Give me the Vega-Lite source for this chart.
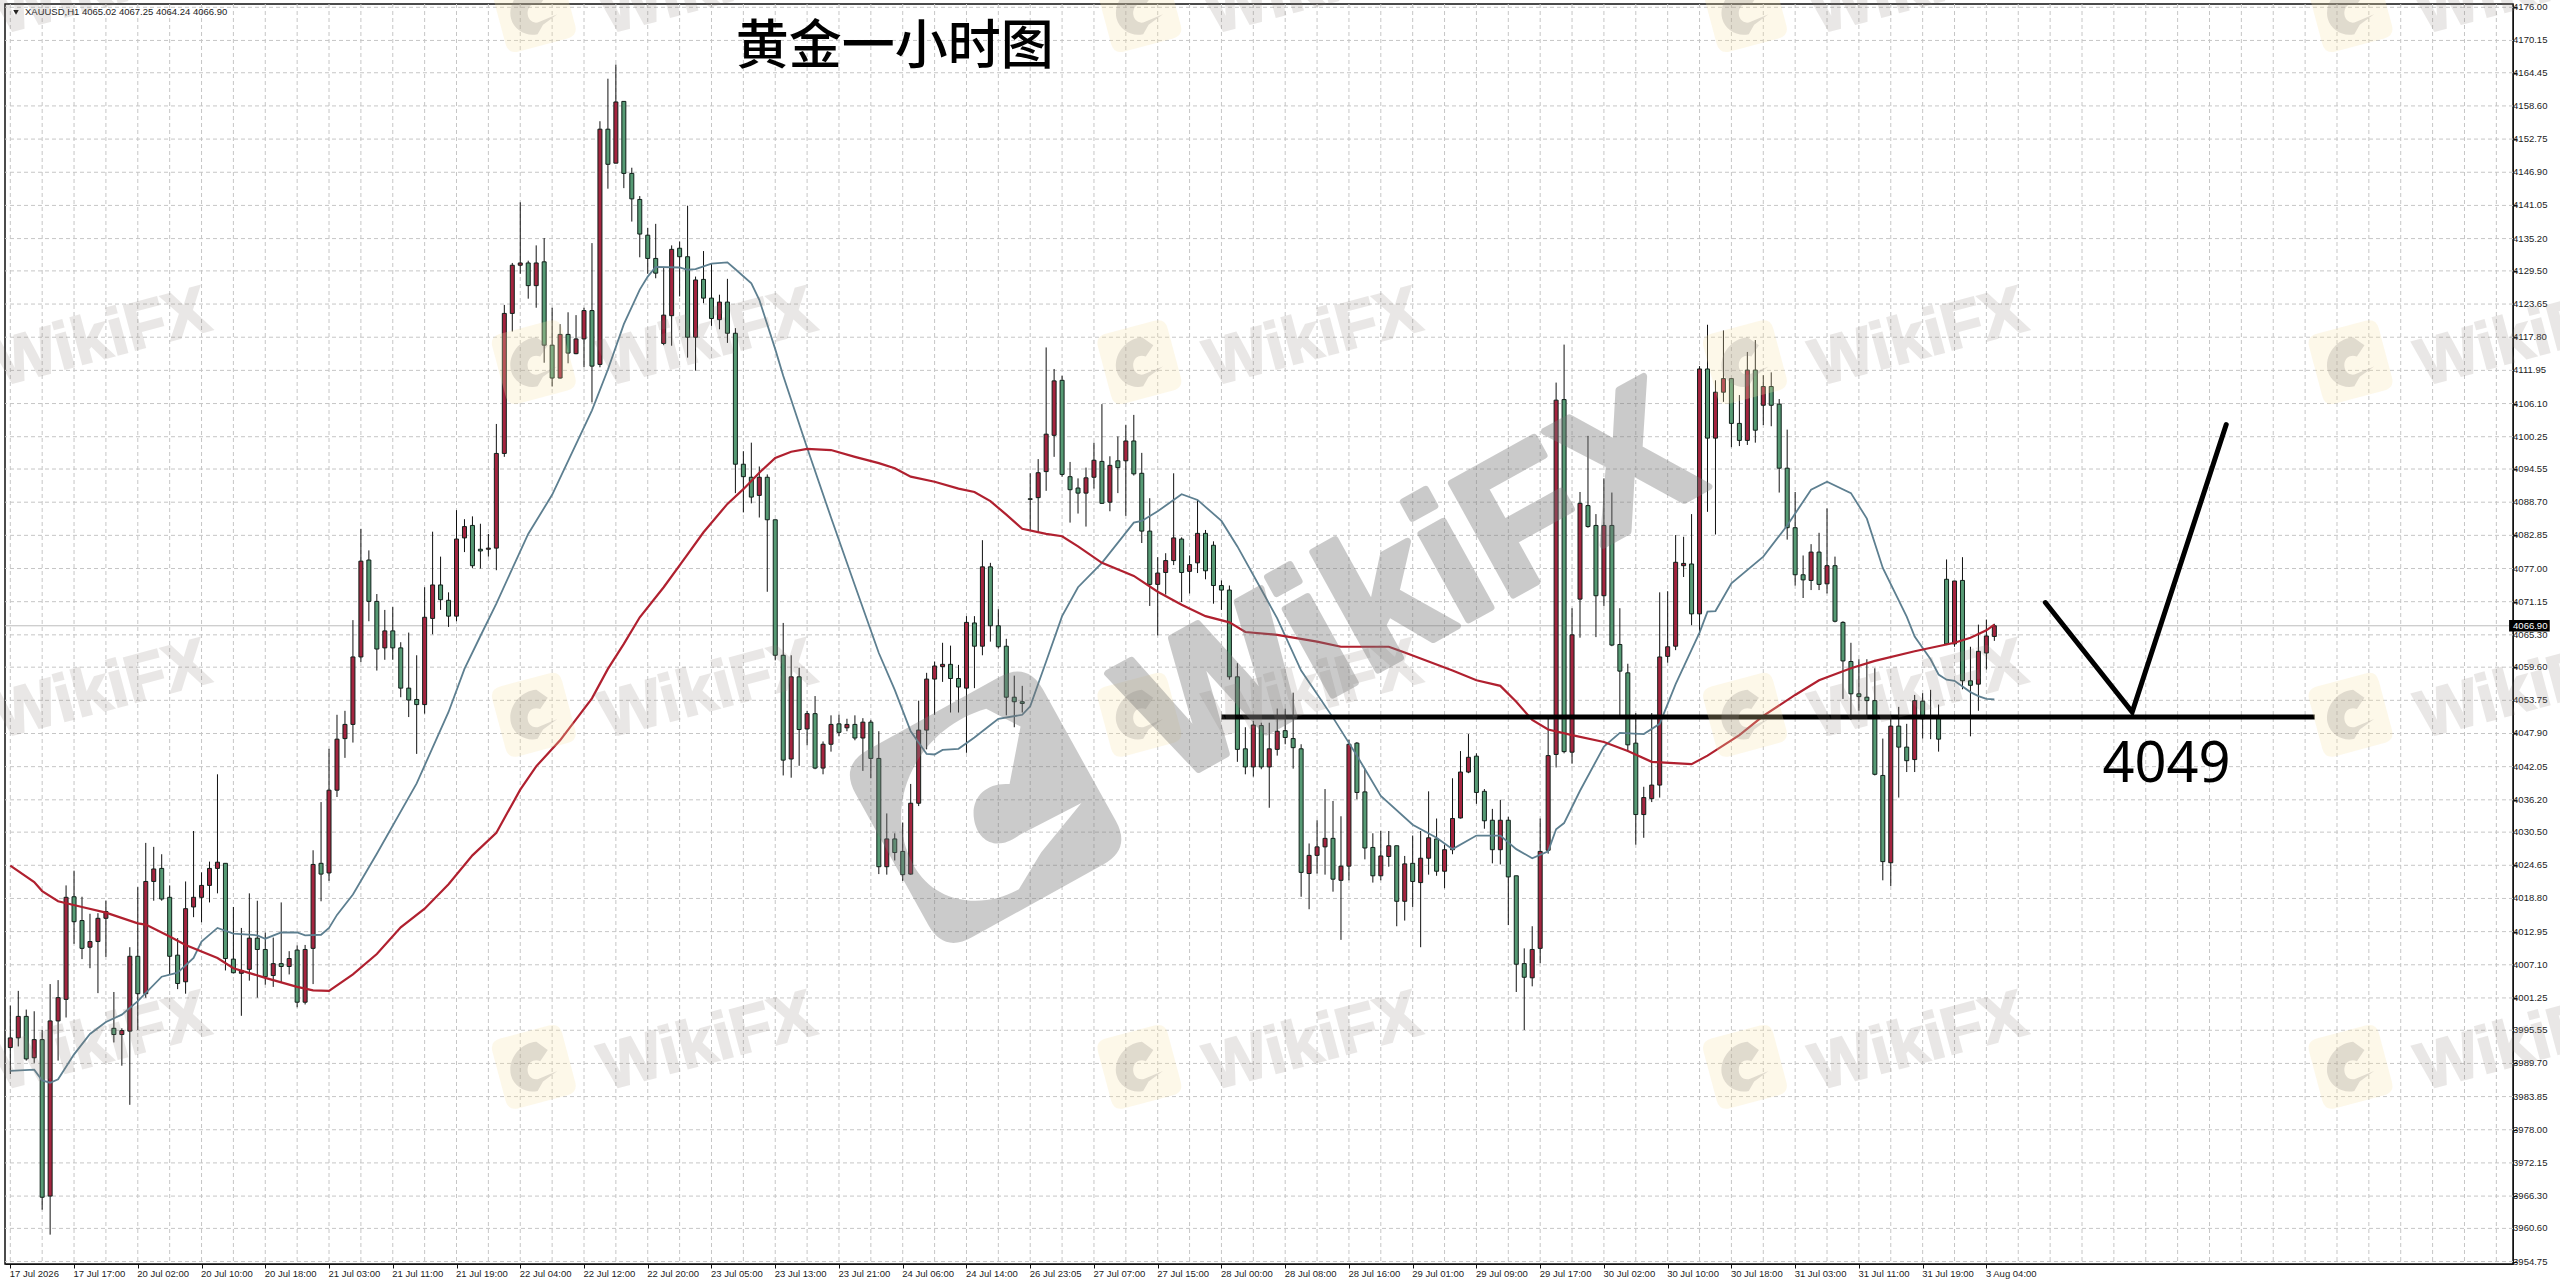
{
  "$schema": "https://vega.github.io/schema/vega-lite/v6.json",
  "width": 2508,
  "height": 1260,
  "autosize": {"type": "none"},
  "padding": {"left": 5, "top": 4, "right": 47, "bottom": 24},
  "background": "white",
  "config": {
    "view": {"stroke": "#111", "strokeWidth": 1.5},
    "axis": {"labelFont": "Liberation Sans", "labelFontSize": 9.5, "labelColor": "#222", "tickColor": "#111", "domainColor": "#111", "grid": false, "title": null, "labelOverlap": false, "labelSeparation": 0}
  },
  "datasets": {
    "candles": [
      {"i":0,"o":3992.5,"h":3999.9,"l":3987.8,"c":3994.2},{"i":1,"o":3994.2,"h":4002.5,"l":3992.7,"c":3998.0},{"i":2,"o":3998.0,"h":3999.2,"l":3990.2,"c":3990.5},{"i":3,"o":3990.7,"h":3998.9,"l":3989.8,"c":3993.9},{"i":4,"o":3993.9,"h":3995.6,"l":3963.9,"c":3966.1},
      {"i":5,"o":3966.3,"h":4003.7,"l":3959.5,"c":3997.2},{"i":6,"o":3997.2,"h":4004.4,"l":3990.2,"c":4001.3},{"i":7,"o":4001.0,"h":4021.1,"l":3997.8,"c":4019.0},{"i":8,"o":4019.1,"h":4023.7,"l":4010.8,"c":4014.7},{"i":9,"o":4014.9,"h":4019.1,"l":4008.1,"c":4010.0},
      {"i":10,"o":4010.2,"h":4016.1,"l":4006.5,"c":4011.2},{"i":11,"o":4011.2,"h":4016.2,"l":4002.1,"c":4015.3},{"i":12,"o":4015.3,"h":4018.4,"l":4008.5,"c":4016.5},{"i":13,"o":3995.9,"h":4002.3,"l":3993.4,"c":3994.8},{"i":14,"o":3994.8,"h":3995.9,"l":3989.3,"c":3995.5},
      {"i":15,"o":3995.4,"h":4010.2,"l":3982.4,"c":4008.6},{"i":16,"o":4008.6,"h":4020.8,"l":3995.6,"c":4002.0},{"i":17,"o":4002.0,"h":4028.6,"l":4001.3,"c":4021.8},{"i":18,"o":4021.8,"h":4027.9,"l":4018.4,"c":4024.0},{"i":19,"o":4024.1,"h":4026.6,"l":4018.4,"c":4018.7},
      {"i":20,"o":4019.0,"h":4021.1,"l":4005.4,"c":4008.6},{"i":21,"o":4008.8,"h":4011.8,"l":4002.8,"c":4003.8},{"i":22,"o":4004.1,"h":4021.8,"l":4002.0,"c":4017.0},{"i":23,"o":4017.3,"h":4030.7,"l":4015.5,"c":4019.0},{"i":24,"o":4019.0,"h":4023.4,"l":4014.6,"c":4021.1},
      {"i":25,"o":4021.1,"h":4025.3,"l":4018.1,"c":4024.1},{"i":26,"o":4024.1,"h":4040.7,"l":4019.7,"c":4025.2},{"i":27,"o":4025.0,"h":4025.0,"l":4006.1,"c":4008.2},{"i":28,"o":4008.1,"h":4017.3,"l":4005.6,"c":4005.7},{"i":29,"o":4005.6,"h":4013.6,"l":3998.1,"c":4006.1},
      {"i":30,"o":4006.3,"h":4019.7,"l":4004.3,"c":4011.8},{"i":31,"o":4011.8,"h":4018.4,"l":4001.3,"c":4009.8},{"i":32,"o":4009.8,"h":4012.8,"l":4003.6,"c":4005.0},{"i":33,"o":4005.2,"h":4011.9,"l":4003.2,"c":4007.3},{"i":34,"o":4007.3,"h":4018.1,"l":4003.9,"c":4006.8},
      {"i":35,"o":4006.8,"h":4009.5,"l":4005.4,"c":4008.2},{"i":36,"o":4009.7,"h":4010.5,"l":3999.6,"c":4000.5},{"i":37,"o":4000.5,"h":4010.6,"l":4000.1,"c":4009.8},{"i":38,"o":4010.0,"h":4027.3,"l":4003.7,"c":4024.8},{"i":39,"o":4025.0,"h":4035.8,"l":4018.3,"c":4023.1},
      {"i":40,"o":4023.3,"h":4045.2,"l":4021.9,"c":4037.9},{"i":41,"o":4037.9,"h":4051.2,"l":4036.7,"c":4046.9},{"i":42,"o":4047.0,"h":4051.9,"l":4043.6,"c":4049.5},{"i":43,"o":4049.5,"h":4067.9,"l":4046.3,"c":4061.4},{"i":44,"o":4061.4,"h":4084.0,"l":4060.5,"c":4078.3},
      {"i":45,"o":4078.5,"h":4080.2,"l":4067.7,"c":4071.2},{"i":46,"o":4071.2,"h":4072.5,"l":4059.0,"c":4062.8},{"i":47,"o":4063.0,"h":4069.7,"l":4060.9,"c":4066.0},{"i":48,"o":4066.0,"h":4070.2,"l":4060.9,"c":4063.0},{"i":49,"o":4063.0,"h":4064.0,"l":4054.3,"c":4055.9},
      {"i":50,"o":4055.9,"h":4065.7,"l":4050.8,"c":4053.8},{"i":51,"o":4053.9,"h":4061.7,"l":4044.3,"c":4053.0},{"i":52,"o":4053.0,"h":4073.7,"l":4051.4,"c":4068.4},{"i":53,"o":4068.2,"h":4083.5,"l":4065.4,"c":4074.1},{"i":54,"o":4074.1,"h":4079.1,"l":4069.7,"c":4071.5},
      {"i":55,"o":4071.4,"h":4072.8,"l":4066.7,"c":4068.6},{"i":56,"o":4068.6,"h":4087.3,"l":4067.7,"c":4082.2},{"i":57,"o":4082.4,"h":4085.7,"l":4079.9,"c":4084.4},{"i":58,"o":4084.6,"h":4086.2,"l":4077.1,"c":4077.5},{"i":59,"o":4080.4,"h":4084.9,"l":4077.0,"c":4080.1},
      {"i":60,"o":4080.4,"h":4083.1,"l":4079.1,"c":4080.6},{"i":61,"o":4080.6,"h":4102.5,"l":4076.7,"c":4097.3},{"i":62,"o":4097.3,"h":4123.5,"l":4096.7,"c":4122.0},{"i":63,"o":4122.0,"h":4130.9,"l":4118.8,"c":4130.5},{"i":64,"o":4130.5,"h":4141.6,"l":4129.0,"c":4130.9},
      {"i":65,"o":4130.9,"h":4131.3,"l":4124.6,"c":4126.9},{"i":66,"o":4126.9,"h":4134.0,"l":4123.0,"c":4130.9},{"i":67,"o":4131.1,"h":4135.3,"l":4113.3,"c":4116.4},{"i":68,"o":4116.4,"h":4123.0,"l":4109.1,"c":4110.6},{"i":69,"o":4110.6,"h":4120.1,"l":4110.5,"c":4118.3},
      {"i":70,"o":4118.3,"h":4122.2,"l":4113.2,"c":4115.0},{"i":71,"o":4114.9,"h":4121.7,"l":4114.8,"c":4117.5},{"i":72,"o":4117.5,"h":4123.0,"l":4112.5,"c":4122.5},{"i":73,"o":4122.5,"h":4134.4,"l":4106.3,"c":4112.7},{"i":74,"o":4113.0,"h":4155.9,"l":4112.5,"c":4154.5},
      {"i":75,"o":4154.5,"h":4163.4,"l":4144.0,"c":4148.3},{"i":76,"o":4148.5,"h":4165.9,"l":4148.5,"c":4159.3},{"i":77,"o":4159.4,"h":4159.4,"l":4144.1,"c":4146.7},{"i":78,"o":4146.7,"h":4147.7,"l":4138.2,"c":4142.2},{"i":79,"o":4142.1,"h":4142.7,"l":4131.9,"c":4136.0},
      {"i":80,"o":4135.8,"h":4137.1,"l":4129.0,"c":4131.7},{"i":81,"o":4131.7,"h":4137.8,"l":4128.2,"c":4129.1},{"i":82,"o":4116.7,"h":4130.0,"l":4116.4,"c":4121.7},{"i":83,"o":4121.6,"h":4134.0,"l":4116.3,"c":4133.3},{"i":84,"o":4133.5,"h":4134.7,"l":4125.0,"c":4132.0},
      {"i":85,"o":4132.0,"h":4141.0,"l":4114.2,"c":4117.8},{"i":86,"o":4117.8,"h":4128.5,"l":4111.9,"c":4127.9},{"i":87,"o":4128.0,"h":4133.0,"l":4123.8,"c":4124.7},{"i":88,"o":4124.7,"h":4130.8,"l":4119.8,"c":4121.1},{"i":89,"o":4120.9,"h":4125.3,"l":4119.2,"c":4124.0},
      {"i":90,"o":4124.0,"h":4128.1,"l":4116.8,"c":4118.5},{"i":91,"o":4118.5,"h":4119.4,"l":4090.3,"c":4095.4},{"i":92,"o":4095.4,"h":4097.7,"l":4086.9,"c":4093.2},{"i":93,"o":4093.1,"h":4099.2,"l":4088.5,"c":4089.6},{"i":94,"o":4089.9,"h":4095.0,"l":4086.0,"c":4093.1},
      {"i":95,"o":4093.1,"h":4093.6,"l":4072.9,"c":4085.6},{"i":96,"o":4085.6,"h":4085.6,"l":4060.8,"c":4061.7},{"i":97,"o":4061.7,"h":4067.4,"l":4040.5,"c":4043.2},{"i":98,"o":4043.4,"h":4061.7,"l":4040.1,"c":4057.9},{"i":99,"o":4057.9,"h":4059.5,"l":4042.2,"c":4048.6},
      {"i":100,"o":4048.7,"h":4051.9,"l":4045.8,"c":4051.4},{"i":101,"o":4051.4,"h":4054.5,"l":4041.6,"c":4041.8},{"i":102,"o":4041.8,"h":4046.5,"l":4040.7,"c":4046.0},{"i":103,"o":4046.0,"h":4051.1,"l":4044.7,"c":4049.5},{"i":104,"o":4049.6,"h":4051.2,"l":4047.4,"c":4048.1},
      {"i":105,"o":4048.9,"h":4050.5,"l":4048.3,"c":4049.5},{"i":106,"o":4049.5,"h":4051.1,"l":4046.7,"c":4047.1},{"i":107,"o":4047.1,"h":4050.6,"l":4041.3,"c":4049.9},{"i":108,"o":4049.9,"h":4050.3,"l":4040.0,"c":4043.5},{"i":109,"o":4043.5,"h":4048.3,"l":4023.1,"c":4024.4},
      {"i":110,"o":4024.4,"h":4033.8,"l":4023.0,"c":4029.3},{"i":111,"o":4029.3,"h":4030.3,"l":4025.5,"c":4026.9},{"i":112,"o":4027.1,"h":4032.2,"l":4021.9,"c":4023.0},{"i":113,"o":4023.1,"h":4039.0,"l":4023.0,"c":4035.6},{"i":114,"o":4035.6,"h":4053.7,"l":4035.1,"c":4048.5},
      {"i":115,"o":4048.5,"h":4058.6,"l":4045.1,"c":4057.5},{"i":116,"o":4057.5,"h":4060.6,"l":4051.2,"c":4059.8},{"i":117,"o":4059.7,"h":4063.9,"l":4057.0,"c":4060.1},{"i":118,"o":4060.1,"h":4063.4,"l":4051.6,"c":4057.6},{"i":119,"o":4057.6,"h":4060.0,"l":4051.6,"c":4056.1},
      {"i":120,"o":4055.9,"h":4068.6,"l":4044.5,"c":4067.5},{"i":121,"o":4067.4,"h":4068.6,"l":4055.9,"c":4063.3},{"i":122,"o":4063.3,"h":4082.0,"l":4061.7,"c":4077.3},{"i":123,"o":4077.3,"h":4078.0,"l":4064.1,"c":4066.9},{"i":124,"o":4066.9,"h":4069.8,"l":4062.9,"c":4063.2},
      {"i":125,"o":4063.3,"h":4064.6,"l":4051.1,"c":4054.3},{"i":126,"o":4054.3,"h":4058.1,"l":4049.0,"c":4053.5},{"i":127,"o":4053.5,"h":4056.3,"l":4051.6,"c":4053.2},{"i":128,"o":4089.2,"h":4093.8,"l":4083.7,"c":4089.3},{"i":129,"o":4089.5,"h":4096.3,"l":4083.4,"c":4093.9},
      {"i":130,"o":4094.1,"h":4116.0,"l":4090.7,"c":4100.7},{"i":131,"o":4100.5,"h":4112.2,"l":4096.7,"c":4110.1},{"i":132,"o":4110.2,"h":4111.0,"l":4093.2,"c":4093.6},{"i":133,"o":4093.2,"h":4095.8,"l":4085.1,"c":4090.9},{"i":134,"o":4091.2,"h":4092.9,"l":4086.7,"c":4090.3},
      {"i":135,"o":4090.3,"h":4094.8,"l":4084.4,"c":4093.0},{"i":136,"o":4093.1,"h":4099.2,"l":4091.1,"c":4096.1},{"i":137,"o":4095.9,"h":4106.0,"l":4088.4,"c":4088.5},{"i":138,"o":4088.7,"h":4096.8,"l":4087.1,"c":4095.2},{"i":139,"o":4096.0,"h":4100.3,"l":4090.3,"c":4094.8},
      {"i":140,"o":4096.0,"h":4102.3,"l":4086.3,"c":4099.5},{"i":141,"o":4099.5,"h":4104.1,"l":4093.4,"c":4093.7},{"i":142,"o":4093.8,"h":4097.4,"l":4081.5,"c":4083.6},{"i":143,"o":4083.6,"h":4089.4,"l":4070.4,"c":4074.2},{"i":144,"o":4074.2,"h":4079.0,"l":4065.2,"c":4076.2},
      {"i":145,"o":4076.3,"h":4079.7,"l":4072.4,"c":4078.4},{"i":146,"o":4078.4,"h":4093.8,"l":4077.6,"c":4082.4},{"i":147,"o":4082.2,"h":4082.5,"l":4071.1,"c":4076.3},{"i":148,"o":4076.5,"h":4079.3,"l":4072.6,"c":4077.7},{"i":149,"o":4078.0,"h":4089.1,"l":4076.2,"c":4083.2},
      {"i":150,"o":4083.2,"h":4083.8,"l":4075.1,"c":4076.6},{"i":151,"o":4081.1,"h":4081.8,"l":4070.8,"c":4074.0},{"i":152,"o":4074.0,"h":4074.9,"l":4069.7,"c":4073.2},{"i":153,"o":4073.2,"h":4074.0,"l":4057.4,"c":4057.9},{"i":154,"o":4057.9,"h":4060.3,"l":4042.9,"c":4045.1},
      {"i":155,"o":4045.2,"h":4049.0,"l":4040.7,"c":4042.0},{"i":156,"o":4042.0,"h":4050.1,"l":4040.3,"c":4049.4},{"i":157,"o":4049.3,"h":4049.8,"l":4041.6,"c":4042.0},{"i":158,"o":4042.0,"h":4049.8,"l":4034.8,"c":4045.2},{"i":159,"o":4045.1,"h":4052.3,"l":4044.0,"c":4048.3},
      {"i":160,"o":4048.4,"h":4052.3,"l":4046.0,"c":4047.2},{"i":161,"o":4047.0,"h":4055.1,"l":4041.7,"c":4045.4},{"i":162,"o":4045.2,"h":4046.0,"l":4019.1,"c":4023.4},{"i":163,"o":4023.2,"h":4028.5,"l":4016.9,"c":4026.4},{"i":164,"o":4026.4,"h":4032.6,"l":4023.2,"c":4027.9},
      {"i":165,"o":4027.9,"h":4038.1,"l":4023.0,"c":4029.4},{"i":166,"o":4029.4,"h":4036.0,"l":4020.0,"c":4022.2},{"i":167,"o":4022.0,"h":4033.3,"l":4011.5,"c":4024.5},{"i":168,"o":4024.5,"h":4046.8,"l":4022.0,"c":4046.0},{"i":169,"o":4046.2,"h":4046.4,"l":4036.3,"c":4037.5},
      {"i":170,"o":4037.6,"h":4041.7,"l":4025.7,"c":4027.7},{"i":171,"o":4027.8,"h":4030.3,"l":4021.6,"c":4022.8},{"i":172,"o":4022.8,"h":4030.7,"l":4022.0,"c":4026.3},{"i":173,"o":4026.2,"h":4030.7,"l":4024.4,"c":4028.1},{"i":174,"o":4028.1,"h":4028.1,"l":4013.9,"c":4018.3},
      {"i":175,"o":4018.3,"h":4026.3,"l":4014.9,"c":4024.9},{"i":176,"o":4025.0,"h":4029.9,"l":4017.3,"c":4021.8},{"i":177,"o":4021.6,"h":4030.7,"l":4010.2,"c":4025.9},{"i":178,"o":4025.9,"h":4037.7,"l":4023.0,"c":4029.5},{"i":179,"o":4029.3,"h":4032.9,"l":4022.8,"c":4023.6},
      {"i":180,"o":4023.6,"h":4028.3,"l":4020.6,"c":4027.4},{"i":181,"o":4027.4,"h":4040.0,"l":4026.6,"c":4032.9},{"i":182,"o":4033.0,"h":4044.8,"l":4032.9,"c":4041.1},{"i":183,"o":4041.1,"h":4047.8,"l":4040.9,"c":4043.7},{"i":184,"o":4043.9,"h":4044.4,"l":4035.5,"c":4037.5},
      {"i":185,"o":4037.7,"h":4038.1,"l":4031.1,"c":4032.5},{"i":186,"o":4032.6,"h":4034.6,"l":4025.0,"c":4027.4},{"i":187,"o":4027.4,"h":4036.2,"l":4024.8,"c":4032.6},{"i":188,"o":4032.6,"h":4033.2,"l":4014.1,"c":4022.6},{"i":189,"o":4022.8,"h":4022.8,"l":4002.3,"c":4007.2},
      {"i":190,"o":4007.3,"h":4010.0,"l":3995.6,"c":4004.9},{"i":191,"o":4004.8,"h":4013.9,"l":4003.3,"c":4009.8},{"i":192,"o":4010.0,"h":4032.9,"l":4007.4,"c":4027.1},{"i":193,"o":4027.3,"h":4050.7,"l":4026.7,"c":4044.0},{"i":194,"o":4044.2,"h":4109.8,"l":4041.9,"c":4106.7},
      {"i":195,"o":4106.8,"h":4116.5,"l":4044.4,"c":4044.7},{"i":196,"o":4044.6,"h":4070.0,"l":4042.6,"c":4065.3},{"i":197,"o":4071.6,"h":4090.5,"l":4064.8,"c":4088.5},{"i":198,"o":4088.1,"h":4100.4,"l":4084.2,"c":4084.4},{"i":199,"o":4084.6,"h":4086.6,"l":4064.9,"c":4072.2},
      {"i":200,"o":4072.2,"h":4092.9,"l":4070.4,"c":4084.6},{"i":201,"o":4084.6,"h":4090.4,"l":4063.3,"c":4063.5},{"i":202,"o":4063.6,"h":4070.0,"l":4051.1,"c":4058.9},{"i":203,"o":4058.6,"h":4060.2,"l":4044.8,"c":4045.9},{"i":204,"o":4046.2,"h":4051.5,"l":4028.3,"c":4033.6},
      {"i":205,"o":4033.6,"h":4038.5,"l":4029.5,"c":4036.6},{"i":206,"o":4036.4,"h":4051.5,"l":4035.8,"c":4038.8},{"i":207,"o":4038.8,"h":4072.8,"l":4036.6,"c":4061.4},{"i":208,"o":4061.5,"h":4073.0,"l":4060.4,"c":4063.2},{"i":209,"o":4063.3,"h":4082.9,"l":4062.6,"c":4078.1},
      {"i":210,"o":4077.5,"h":4082.6,"l":4075.5,"c":4077.9},{"i":211,"o":4077.8,"h":4086.6,"l":4067.0,"c":4069.0},{"i":212,"o":4069.0,"h":4112.7,"l":4065.3,"c":4112.2},{"i":213,"o":4112.2,"h":4120.0,"l":4087.0,"c":4100.0},{"i":214,"o":4100.0,"h":4110.2,"l":4083.0,"c":4108.1},
      {"i":215,"o":4108.1,"h":4119.0,"l":4106.4,"c":4110.5},{"i":216,"o":4110.5,"h":4110.6,"l":4098.4,"c":4102.6},{"i":217,"o":4102.6,"h":4107.6,"l":4098.6,"c":4099.6},{"i":218,"o":4099.6,"h":4115.2,"l":4098.8,"c":4112.0},{"i":219,"o":4112.0,"h":4117.3,"l":4099.2,"c":4101.4},
      {"i":220,"o":4105.8,"h":4111.1,"l":4102.3,"c":4109.1},{"i":221,"o":4109.1,"h":4111.6,"l":4102.1,"c":4105.8},{"i":222,"o":4106.0,"h":4106.9,"l":4090.4,"c":4094.7},{"i":223,"o":4094.7,"h":4101.5,"l":4082.1,"c":4084.2},{"i":224,"o":4084.2,"h":4090.5,"l":4074.0,"c":4075.9},
      {"i":225,"o":4075.9,"h":4079.3,"l":4071.8,"c":4075.0},{"i":226,"o":4074.9,"h":4081.3,"l":4073.2,"c":4079.9},{"i":227,"o":4079.9,"h":4083.3,"l":4073.2,"c":4074.2},{"i":228,"o":4074.3,"h":4087.6,"l":4072.6,"c":4077.5},{"i":229,"o":4077.5,"h":4079.1,"l":4067.5,"c":4067.7},
      {"i":230,"o":4067.5,"h":4067.7,"l":4054.0,"c":4060.7},{"i":231,"o":4060.6,"h":4063.9,"l":4050.3,"c":4054.9},{"i":232,"o":4054.9,"h":4061.0,"l":4051.9,"c":4054.4},{"i":233,"o":4054.3,"h":4061.0,"l":4050.7,"c":4053.7},{"i":234,"o":4053.7,"h":4059.4,"l":4040.5,"c":4040.7},
      {"i":235,"o":4040.5,"h":4047.0,"l":4022.0,"c":4025.3},{"i":236,"o":4025.1,"h":4050.7,"l":4021.0,"c":4049.2},{"i":237,"o":4049.2,"h":4052.6,"l":4036.6,"c":4045.5},{"i":238,"o":4045.5,"h":4049.6,"l":4041.1,"c":4043.1},{"i":239,"o":4043.3,"h":4054.7,"l":4041.1,"c":4053.7},
      {"i":240,"o":4053.6,"h":4055.0,"l":4047.0,"c":4050.5},{"i":241,"o":4050.8,"h":4055.6,"l":4046.9,"c":4050.6},{"i":242,"o":4050.7,"h":4053.0,"l":4044.7,"c":4046.9},{"i":243,"o":4075.1,"h":4078.6,"l":4063.5,"c":4063.7},{"i":244,"o":4063.7,"h":4074.8,"l":4063.2,"c":4074.8},
      {"i":245,"o":4074.9,"h":4079.0,"l":4055.7,"c":4057.2},{"i":246,"o":4057.2,"h":4063.2,"l":4047.4,"c":4056.4},{"i":247,"o":4056.6,"h":4067.1,"l":4051.9,"c":4062.4},{"i":248,"o":4062.1,"h":4068.0,"l":4059.2,"c":4065.1},{"i":249,"o":4065.02,"h":4067.25,"l":4064.24,"c":4066.9}
    ],
    "maRed": [
      {"i":0,"p":4024.6},{"i":3,"p":4021.7},{"i":4,"p":4020.1},{"i":6,"p":4018.3},{"i":9,"p":4017.3},{"i":12,"p":4016.3},{"i":16,"p":4014.4},{"i":17,"p":4014.2},{"i":20,"p":4012.1},{"i":22,"p":4010.6},{"i":26,"p":4008.3},{"i":28,"p":4006.5},{"i":32,"p":4004.8},{"i":36,"p":4003.2},{"i":38,"p":4002.6},{"i":40,"p":4002.5},{"i":43,"p":4005.4},{"i":46,"p":4009.0},{"i":49,"p":4013.7},{"i":52,"p":4017.0},{"i":55,"p":4021.3},{"i":58,"p":4026.4},{"i":61,"p":4030.4},{"i":64,"p":4038.0},{"i":66,"p":4042.1},{"i":69,"p":4046.7},{"i":73,"p":4054.1},{"i":75,"p":4059.3},{"i":77,"p":4063.7},{"i":79,"p":4068.4},{"i":82,"p":4073.7},{"i":85,"p":4079.5},{"i":87,"p":4083.4},{"i":90,"p":4088.4},{"i":92,"p":4091.0},{"i":94,"p":4093.9},{"i":96,"p":4096.5},{"i":98,"p":4097.6},{"i":100,"p":4098.1},{"i":103,"p":4097.9},{"i":106,"p":4096.7},{"i":109,"p":4095.6},{"i":111,"p":4094.7},{"i":113,"p":4093.2},{"i":116,"p":4092.3},{"i":119,"p":4091.1},{"i":121,"p":4090.5},{"i":123,"p":4088.9},{"i":125,"p":4086.5},{"i":127,"p":4084.0},{"i":130,"p":4083.1},{"i":132,"p":4082.7},{"i":134,"p":4080.9},{"i":137,"p":4078.0},{"i":141,"p":4075.7},{"i":144,"p":4072.9},{"i":147,"p":4070.6},{"i":150,"p":4068.6},{"i":153,"p":4067.5},{"i":155,"p":4065.8},{"i":159,"p":4065.3},{"i":164,"p":4064.1},{"i":167,"p":4063.2},{"i":173,"p":4063.2},{"i":175,"p":4062.2},{"i":181,"p":4059.0},{"i":184,"p":4057.3},{"i":187,"p":4056.3},{"i":189,"p":4053.5},{"i":191,"p":4050.3},{"i":193,"p":4048.6},{"i":196,"p":4047.6},{"i":200,"p":4046.4},{"i":203,"p":4044.8},{"i":206,"p":4042.9},{"i":211,"p":4042.5},{"i":213,"p":4044.0},{"i":217,"p":4047.6},{"i":220,"p":4051.0},{"i":224,"p":4054.7},{"i":227,"p":4057.3},{"i":231,"p":4059.4},{"i":234,"p":4060.7},{"i":239,"p":4062.4},{"i":244,"p":4063.9},{"i":246,"p":4064.8},{"i":248,"p":4066.1},{"i":249,"p":4067.1}
    ],
    "maBlue": [
      {"i":0,"p":3988.4},{"i":3,"p":3988.6},{"i":4,"p":3986.7},{"i":5,"p":3986.3},{"i":6,"p":3986.9},{"i":8,"p":3991.3},{"i":10,"p":3994.9},{"i":12,"p":3997.0},{"i":14,"p":3998.3},{"i":16,"p":4000.7},{"i":19,"p":4005.0},{"i":21,"p":4005.7},{"i":23,"p":4008.3},{"i":24,"p":4011.2},{"i":26,"p":4013.6},{"i":28,"p":4012.6},{"i":31,"p":4012.3},{"i":32,"p":4011.7},{"i":34,"p":4012.8},{"i":36,"p":4012.8},{"i":37,"p":4012.3},{"i":39,"p":4012.4},{"i":40,"p":4013.6},{"i":41,"p":4015.9},{"i":43,"p":4019.5},{"i":46,"p":4026.7},{"i":51,"p":4039.1},{"i":55,"p":4051.7},{"i":57,"p":4059.3},{"i":59,"p":4065.1},{"i":61,"p":4070.8},{"i":63,"p":4077.0},{"i":65,"p":4083.1},{"i":68,"p":4090.0},{"i":73,"p":4104.9},{"i":75,"p":4112.1},{"i":77,"p":4120.1},{"i":79,"p":4126.2},{"i":80,"p":4128.5},{"i":81,"p":4130.2},{"i":84,"p":4130.1},{"i":85,"p":4129.7},{"i":86,"p":4129.8},{"i":88,"p":4130.8},{"i":90,"p":4131.0},{"i":91,"p":4129.8},{"i":93,"p":4127.3},{"i":94,"p":4124.4},{"i":96,"p":4115.7},{"i":97,"p":4111.0},{"i":100,"p":4098.3},{"i":103,"p":4086.0},{"i":106,"p":4074.0},{"i":109,"p":4062.1},{"i":111,"p":4055.6},{"i":113,"p":4048.3},{"i":115,"p":4044.3},{"i":116,"p":4044.2},{"i":117,"p":4045.0},{"i":119,"p":4045.2},{"i":121,"p":4047.2},{"i":123,"p":4049.4},{"i":124,"p":4050.5},{"i":127,"p":4051.2},{"i":128,"p":4052.7},{"i":130,"p":4060.6},{"i":132,"p":4068.6},{"i":134,"p":4073.7},{"i":137,"p":4078.0},{"i":141,"p":4085.1},{"i":142,"p":4085.4},{"i":144,"p":4087.1},{"i":147,"p":4090.1},{"i":149,"p":4089.1},{"i":152,"p":4085.4},{"i":154,"p":4080.9},{"i":157,"p":4073.3},{"i":159,"p":4068.2},{"i":162,"p":4059.0},{"i":166,"p":4050.7},{"i":169,"p":4044.0},{"i":172,"p":4036.9},{"i":176,"p":4031.8},{"i":179,"p":4029.5},{"i":181,"p":4027.5},{"i":184,"p":4029.9},{"i":187,"p":4029.9},{"i":189,"p":4027.5},{"i":191,"p":4025.9},{"i":193,"p":4027.1},{"i":194,"p":4031.0},{"i":195,"p":4032.1},{"i":197,"p":4037.8},{"i":200,"p":4045.6},{"i":202,"p":4048.0},{"i":205,"p":4047.8},{"i":207,"p":4049.6},{"i":209,"p":4056.6},{"i":212,"p":4065.7},{"i":213,"p":4069.4},{"i":214,"p":4069.5},{"i":216,"p":4074.4},{"i":220,"p":4079.1},{"i":223,"p":4084.6},{"i":226,"p":4090.9},{"i":228,"p":4092.3},{"i":231,"p":4090.3},{"i":233,"p":4085.8},{"i":235,"p":4077.1},{"i":238,"p":4068.5},{"i":239,"p":4065.0},{"i":241,"p":4061.0},{"i":242,"p":4058.3},{"i":243,"p":4057.4},{"i":244,"p":4057.2},{"i":246,"p":4055.2},{"i":247,"p":4054.5},{"i":248,"p":4054.0},{"i":249,"p":4053.9}
    ],
    "gridX": [
      {"i":0},{"i":4},{"i":8},{"i":12},{"i":16},{"i":20},{"i":24},{"i":28},{"i":32},{"i":36},{"i":40},{"i":44},{"i":48},{"i":52},{"i":56},{"i":60},{"i":64},{"i":68},{"i":72},{"i":76},{"i":80},{"i":84},{"i":88},{"i":92},{"i":96},{"i":100},{"i":104},{"i":108},{"i":112},{"i":116},{"i":120},{"i":124},{"i":128},{"i":132},{"i":136},{"i":140},{"i":144},{"i":148},{"i":152},{"i":156},{"i":160},{"i":164},{"i":168},{"i":172},{"i":176},{"i":180},{"i":184},{"i":188},{"i":192},{"i":196},{"i":200},{"i":204},{"i":208},{"i":212},{"i":216},{"i":220},{"i":224},{"i":228},{"i":232},{"i":236},{"i":240},{"i":244},{"i":248},{"i":252},{"i":256},{"i":260},{"i":264},{"i":268},{"i":272},{"i":276},{"i":280},{"i":284},{"i":288},{"i":292},{"i":296},{"i":300},{"i":304},{"i":308},{"i":312}
    ],
    "priceTicks": [
      {"p":4176.00},{"p":4170.15},{"p":4164.45},{"p":4158.60},{"p":4152.75},{"p":4146.90},{"p":4141.05},{"p":4135.20},{"p":4129.50},{"p":4123.65},{"p":4117.80},{"p":4111.95},{"p":4106.10},{"p":4100.25},{"p":4094.55},{"p":4088.70},{"p":4082.85},{"p":4077.00},{"p":4071.15},{"p":4065.30},{"p":4059.60},{"p":4053.75},{"p":4047.90},{"p":4042.05},{"p":4036.20},{"p":4030.50},{"p":4024.65},{"p":4018.80},{"p":4012.95},{"p":4007.10},{"p":4001.25},{"p":3995.55},{"p":3989.70},{"p":3983.85},{"p":3978.00},{"p":3972.15},{"p":3966.30},{"p":3960.60},{"p":3954.75}
    ],
    "wmText": [
      {"i":11.5,"p":4179.7},{"i":87.5,"p":4179.7},{"i":163.5,"p":4179.7},{"i":239.5,"p":4179.7},{"i":315.5,"p":4179.7},
      {"i":11.5,"p":4117.6},{"i":87.5,"p":4117.6},{"i":163.5,"p":4117.6},{"i":239.5,"p":4117.6},{"i":315.5,"p":4117.6},
      {"i":11.5,"p":4055.5},{"i":87.5,"p":4055.5},{"i":163.5,"p":4055.5},{"i":239.5,"p":4055.5},{"i":315.5,"p":4055.5},
      {"i":11.5,"p":3993.4},{"i":87.5,"p":3993.4},{"i":163.5,"p":3993.4},{"i":239.5,"p":3993.4},{"i":315.5,"p":3993.4}
    ],
    "wmLogo": [
      {"i":65.7,"p":4175.5},{"i":141.7,"p":4175.5},{"i":217.7,"p":4175.5},{"i":293.7,"p":4175.5},
      {"i":65.7,"p":4113.4},{"i":141.7,"p":4113.4},{"i":217.7,"p":4113.4},{"i":293.7,"p":4113.4},
      {"i":65.7,"p":4051.2},{"i":141.7,"p":4051.2},{"i":217.7,"p":4051.2},{"i":293.7,"p":4051.2},
      {"i":65.7,"p":3989.1},{"i":141.7,"p":3989.1},{"i":217.7,"p":3989.1},{"i":293.7,"p":3989.1}
    ]
  },
  "layer": [
    {
      "data": {"name": "gridX"},
      "mark": {"type": "rule", "color": "#c6c6c6", "strokeWidth": 1, "strokeDash": [4, 3]},
      "encoding": {
        "x": {
          "field": "i", "type": "quantitative",
          "scale": {"domain": [-0.0375, 313.4625], "nice": false, "zero": false},
          "axis": {
            "title": null, "grid": false, "tickSize": 4, "labelAlign": "left", "labelPadding": 0, "labelOverlap": false, "labelFlush": false, "labelOffset": -1,
            "values": [0,8,16,24,32,40,48,56,64,72,80,88,96,104,112,120,128,136,144,152,160,168,176,184,192,200,208,216,224,232,240,248],
            "labelExpr": "['17 Jul 2026','17 Jul 17:00','20 Jul 02:00','20 Jul 10:00','20 Jul 18:00','21 Jul 03:00','21 Jul 11:00','21 Jul 19:00','22 Jul 04:00','22 Jul 12:00','22 Jul 20:00','23 Jul 05:00','23 Jul 13:00','23 Jul 21:00','24 Jul 06:00','24 Jul 14:00','26 Jul 23:05','27 Jul 07:00','27 Jul 15:00','28 Jul 00:00','28 Jul 08:00','28 Jul 16:00','29 Jul 01:00','29 Jul 09:00','29 Jul 17:00','30 Jul 02:00','30 Jul 10:00','30 Jul 18:00','31 Jul 03:00','31 Jul 11:00','31 Jul 19:00','3 Aug 04:00'][datum.value/8]"
          }
        }
      }
    },
    {
      "data": {"name": "priceTicks"},
      "mark": {"type": "rule", "color": "#c6c6c6", "strokeWidth": 1, "strokeDash": [4, 3]},
      "encoding": {
        "y": {
          "field": "p", "type": "quantitative",
          "scale": {"domain": [3954.32, 4176.58], "nice": false, "zero": false},
          "axis": {
            "title": null, "orient": "right", "grid": false, "labels": false, "tickSize": 4,
            "values": [4176.00,4170.15,4164.45,4158.60,4152.75,4146.90,4141.05,4135.20,4129.50,4123.65,4117.80,4111.95,4106.10,4100.25,4094.55,4088.70,4082.85,4077.00,4071.15,4065.30,4059.60,4053.75,4047.90,4042.05,4036.20,4030.50,4024.65,4018.80,4012.95,4007.10,4001.25,3995.55,3989.70,3983.85,3978.00,3972.15,3966.30,3960.60,3954.75]
          }
        }
      }
    },
    {
      "data": {"values": [{"p": 4066.9}]},
      "mark": {"type": "rule", "color": "#bdbdbd", "strokeWidth": 1},
      "encoding": {
        "y": {"field": "p", "type": "quantitative"}
      }
    },
    {
      "data": {"name": "priceTicks"},
      "mark": {"type": "text", "font": "Liberation Sans", "fontSize": 9.5, "color": "#222", "align": "left", "baseline": "middle"},
      "encoding": {
        "x": {"datum": 314.1, "type": "quantitative"},
        "y": {"field": "p", "type": "quantitative"},
        "text": {"field": "p", "type": "quantitative", "format": ".2f"}
      }
    },
    {
      "data": {"name": "candles"},
      "mark": {"type": "rule", "color": "#111", "strokeWidth": 1},
      "encoding": {
        "x": {"field": "i", "type": "quantitative"},
        "y": {"field": "l", "type": "quantitative"},
        "y2": {"field": "h"}
      }
    },
    {
      "data": {"name": "candles"},
      "mark": {"type": "bar", "size": 4, "stroke": "#10201a", "strokeWidth": 1},
      "encoding": {
        "x": {"field": "i", "type": "quantitative"},
        "y": {"field": "o", "type": "quantitative"},
        "y2": {"field": "c"},
        "fill": {"condition": {"test": "datum.c >= datum.o", "value": "#a4243f"}, "value": "#569a74"}
      }
    },
    {
      "data": {"name": "maBlue"},
      "mark": {"type": "line", "color": "#5d7f90", "strokeWidth": 1.8},
      "encoding": {
        "x": {"field": "i", "type": "quantitative"},
        "y": {"field": "p", "type": "quantitative"}
      }
    },
    {
      "data": {"name": "maRed"},
      "mark": {"type": "line", "color": "#b0202f", "strokeWidth": 2.2},
      "encoding": {
        "x": {"field": "i", "type": "quantitative"},
        "y": {"field": "p", "type": "quantitative"}
      }
    },
    {
      "data": {"values": [{"i": 152, "p": 4050.8}, {"i": 289.2, "p": 4050.8}]},
      "mark": {"type": "line", "color": "#000", "strokeWidth": 5},
      "encoding": {
        "x": {"field": "i", "type": "quantitative"},
        "y": {"field": "p", "type": "quantitative"}
      }
    },
    {
      "data": {"values": [{"i": 255.4, "p": 4071.0}, {"i": 266.3, "p": 4051.7}, {"i": 278.1, "p": 4102.4}]},
      "mark": {"type": "line", "color": "#000", "strokeWidth": 5, "strokeCap": "round"},
      "encoding": {
        "x": {"field": "i", "type": "quantitative"},
        "y": {"field": "p", "type": "quantitative"}
      }
    },
    {
      "data": {"values": [{"i": 270.6, "p": 4042.3, "t": "4049"}]},
      "mark": {"type": "text", "font": "Noto Sans", "fontSize": 56, "color": "#000", "align": "center", "baseline": "middle"},
      "encoding": {
        "x": {"field": "i", "type": "quantitative"},
        "y": {"field": "p", "type": "quantitative"},
        "text": {"field": "t"}
      }
    },
    {
      "data": {"values": [{"i": 111, "p": 4168.9, "t": "黄金一小时图"}]},
      "mark": {"type": "text", "font": "Noto Sans CJK SC", "fontSize": 53, "fontWeight": 500, "color": "#000", "align": "center", "baseline": "middle"},
      "encoding": {
        "x": {"field": "i", "type": "quantitative"},
        "y": {"field": "p", "type": "quantitative"},
        "text": {"field": "t"}
      }
    },
    {
      "data": {"values": [{"i": 1.84, "p": 4175.1, "t": "XAUUSD,H1  4065.02 4067.25 4064.24 4066.90"}]},
      "mark": {"type": "text", "font": "Liberation Sans", "fontSize": 9.5, "color": "#222", "align": "left", "baseline": "middle"},
      "encoding": {
        "x": {"field": "i", "type": "quantitative"},
        "y": {"field": "p", "type": "quantitative"},
        "text": {"field": "t"}
      }
    },
    {
      "data": {"values": [{"i": 0.72, "p": 4175.1}]},
      "mark": {"type": "point", "shape": "triangle-down", "size": 30, "filled": true, "color": "#111", "opacity": 1},
      "encoding": {
        "x": {"field": "i", "type": "quantitative"},
        "y": {"field": "p", "type": "quantitative"}
      }
    },
    {
      "data": {"values": [{"i": 313.6, "i2": 318.7, "p": 4067.9, "p2": 4065.9}]},
      "mark": {"type": "rect", "color": "#000"},
      "encoding": {
        "x": {"field": "i", "type": "quantitative"},
        "x2": {"field": "i2"},
        "y": {"field": "p", "type": "quantitative"},
        "y2": {"field": "p2"}
      }
    },
    {
      "data": {"values": [{"i": 314.1, "p": 4066.9, "t": "4066.90"}]},
      "mark": {"type": "text", "font": "Liberation Sans", "fontSize": 9.5, "color": "#fff", "align": "left", "baseline": "middle"},
      "encoding": {
        "x": {"field": "i", "type": "quantitative"},
        "y": {"field": "p", "type": "quantitative"},
        "text": {"field": "t"}
      }
    },
    {
      "data": {"name": "wmLogo"},
      "mark": {"type": "point", "filled": true, "size": 5200, "angle": -15, "color": "#f7e3a8", "opacity": 0.25, "shape": "M-0.7,-1 L0.7,-1 Q1,-1 1,-0.7 L1,0.7 Q1,1 0.7,1 L-0.7,1 Q-1,1 -1,0.7 L-1,-0.7 Q-1,-1 -0.7,-1 Z"},
      "encoding": {
        "x": {"field": "i", "type": "quantitative"},
        "y": {"field": "p", "type": "quantitative"}
      }
    },
    {
      "data": {"name": "wmLogo"},
      "mark": {"type": "point", "filled": true, "size": 2600, "angle": -15, "color": "#8a8580", "opacity": 0.25, "shape": "M0.35,-0.92 C-0.3,-1.05 -0.95,-0.5 -0.95,0.1 C-0.95,0.55 -0.55,0.95 -0.1,0.95 L0.2,0.65 L0.85,0.4 L0.1,0.5 C-0.2,0.55 -0.35,0.25 -0.25,0 C-0.15,-0.25 0.1,-0.3 0.3,-0.15 L0.7,-0.5 Z"},
      "encoding": {
        "x": {"field": "i", "type": "quantitative"},
        "y": {"field": "p", "type": "quantitative"}
      }
    },
    {
      "data": {"name": "wmText"},
      "mark": {"type": "text", "text": "WikiFX", "font": "Liberation Sans", "fontWeight": "bold", "fontSize": 66, "angle": -15, "color": "#8a7f78", "stroke": "#8a7f78", "strokeWidth": 2, "opacity": 0.18, "align": "center", "baseline": "middle"},
      "encoding": {
        "x": {"field": "i", "type": "quantitative"},
        "y": {"field": "p", "type": "quantitative"}
      }
    },
    {
      "data": {"values": [{"i": 122.4, "p": 4034.9}]},
      "mark": {"type": "point", "filled": true, "size": 46000, "angle": -29, "color": "#777", "opacity": 0.38, "shape": "M-0.7,-1 L0.7,-1 Q1,-1 1,-0.7 L1,0.7 Q1,1 0.7,1 L-0.7,1 Q-1,1 -1,0.7 L-1,-0.7 Q-1,-1 -0.7,-1 Z M0.45,-0.8 C-0.2,-0.95 -0.85,-0.5 -0.85,0.15 C-0.85,0.55 -0.5,0.82 -0.1,0.82 L0.25,0.62 L0.8,0.4 L0.15,0.38 C-0.1,0.42 -0.22,0.25 -0.15,0.05 C-0.08,-0.15 0.12,-0.2 0.3,-0.08 L0.65,-0.5 Z"},
      "encoding": {
        "x": {"field": "i", "type": "quantitative"},
        "y": {"field": "p", "type": "quantitative"}
      }
    },
    {
      "data": {"values": [{"i": 176, "p": 4073.8}]},
      "mark": {"type": "text", "text": "WikiFX", "font": "Liberation Sans", "fontWeight": "bold", "fontSize": 186, "angle": -29, "color": "#777", "stroke": "#777", "strokeWidth": 7, "strokeJoin": "round", "opacity": 0.38, "align": "center", "baseline": "middle"},
      "encoding": {
        "x": {"field": "i", "type": "quantitative"},
        "y": {"field": "p", "type": "quantitative"}
      }
    }
  ]
}
